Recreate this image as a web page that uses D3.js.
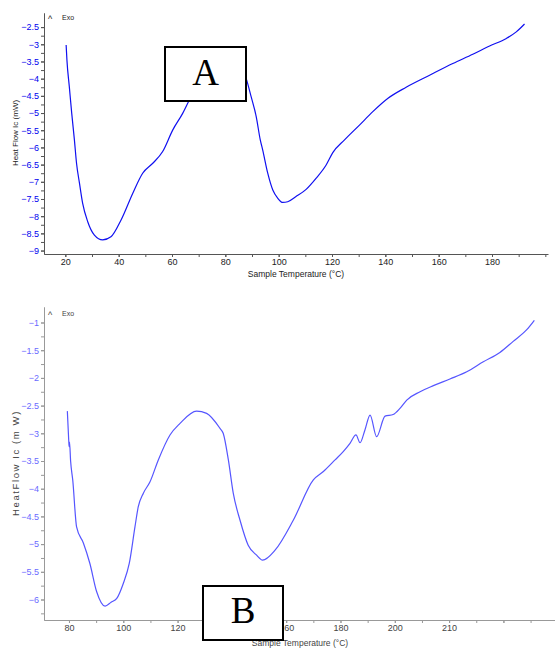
<!DOCTYPE html>
<html>
<head>
<meta charset="utf-8">
<script src="https://cdn.jsdelivr.net/npm/d3@7"></script>
<style>
  body { margin: 0; background: #fff; }
  svg { display: block; font-family: "Liberation Sans", Arial, sans-serif; }
</style>
</head>
<body>
<svg id="chart" width="555" height="648"></svg>
<script>
// panel A data (temperature in C, heat flow in mW)
const tempA = [20.3, 20.6, 21.5, 22.4, 23.4, 24.2, 25.3, 26.5, 28.4, 30.9, 34.0, 37.1, 40.9, 45.3, 49.0, 52.8, 56.5, 60.3, 64.0, 66.5,
  70, 75, 80, 84, 87.8, 89.7, 91.6, 93.1, 94.0, 95.9, 97.8, 99.7, 101.5, 103.4, 106.5, 110.3, 114.0, 117.8, 120.3, 124.7,
  130.3, 135.3, 141.0, 147.8, 156.6, 165.3, 172.8, 179.1, 185.4, 189.1, 192.2];
const heatA = [-3.02, -3.46, -4.24, -5.01, -5.78, -6.46, -7.04, -7.63, -8.16, -8.55, -8.69, -8.60, -8.11, -7.33, -6.75, -6.46, -6.12, -5.49, -5.01, -4.62,
  -4.1, -3.6, -3.35, -3.5, -3.99, -4.53, -5.11, -5.78, -6.07, -6.75, -7.24, -7.48, -7.60, -7.58, -7.43, -7.22, -6.90, -6.51, -6.15, -5.78,
  -5.35, -4.96, -4.57, -4.25, -3.90, -3.56, -3.29, -3.05, -2.83, -2.64, -2.41];

// panel B data
const tempB = [79.4, 79.9, 80.05, 80.2, 80.6, 81.4, 82.8, 85.3, 87.7, 90.2, 93.3, 95.5, 97.6, 100.0, 102.2, 104.3, 105.5, 107.4, 109.8, 112.9,
  117.2, 120.9, 127.0, 130.7, 135.6, 136.8, 138.7, 140.5, 143.0, 146.0, 149.1, 151.3, 155.9, 162.6, 170.0, 173.7, 178.0, 181.0, 183.5, 185.7,
  187.2, 189.0, 190.9, 193.3, 196.4, 199.4, 201.9, 204.4, 209.3, 214.2, 220.3, 226.5, 232.6, 238.7, 243.6, 248.6, 251.4];
const heatB = [-2.6, -3.12, -3.24, -3.16, -3.5, -3.85, -4.69, -4.98, -5.35, -5.86, -6.12, -6.05, -5.98, -5.71, -5.35, -4.69, -4.33, -4.08, -3.88, -3.48,
  -3.03, -2.82, -2.60, -2.64, -2.91, -3.0, -3.48, -4.08, -4.57, -5.02, -5.2, -5.29, -5.11, -4.57, -3.84, -3.69, -3.48, -3.33, -3.18, -3.03,
  -3.17, -2.94, -2.67, -3.06, -2.69, -2.66, -2.55, -2.40, -2.25, -2.14, -2.02, -1.89, -1.71, -1.54, -1.34, -1.13, -0.96];

// ticks
const xTicksA = [20, 40, 60, 80, 100, 120, 140, 160, 180];
const xMinorA = [20, 30, 40, 50, 60, 70, 80, 90, 100, 110, 120, 130, 140, 150, 160, 170, 180, 190, 200];
const yTicksA = [-2.5, -3, -3.5, -4, -4.5, -5, -5.5, -6, -6.5, -7, -7.5, -8, -8.5, -9];
const xTicksB = [80, 100, 120, 160, 180, 200, 220, 240];
const xLabelsB = ["80", "100", "120", "160", "180", "200", "210", ""];
const xMinorB = [80, 90, 100, 110, 120, 130, 140, 150, 160, 170, 180, 190, 200, 210, 220, 230, 240, 250];
const yTicksB = [-1, -1.5, -2, -2.5, -3, -3.5, -4, -4.5, -5, -5.5, -6];

const svg = d3.select("#chart");

function quarterTicks(vals) {
  let out = [];
  vals.forEach(v => { out.push(v); out.push(v - 0.25); });
  return out;
}

function drawPanel(o) {
  let g = svg.append("g");

  // minor y ticks
  g.append("g")
    .attr("transform", `translate(${o.x0},0)`)
    .call(d3.axisLeft(o.y).tickValues(quarterTicks(o.yTicks).filter(v => v >= o.y.domain()[0])).tickSize(3).tickFormat("").tickSizeOuter(0))
    .call(s => s.selectAll("line, path").attr("stroke", o.axisColor));

  // y axis with labels
  g.append("g")
    .attr("transform", `translate(${o.x0},0)`)
    .call(d3.axisLeft(o.y).tickValues(o.yTicks).tickSize(3).tickPadding(2).tickSizeOuter(0).tickFormat(d3.format("")))
    .call(s => s.selectAll("line, path").attr("stroke", o.axisColor))
    .call(s => s.selectAll("text").attr("fill", o.labelColor).style("font-size", "9px"));

  // x axis ticks
  g.append("g")
    .attr("transform", `translate(0,${o.y0})`)
    .call(d3.axisBottom(o.x).tickValues(o.xMinor).tickSize(3).tickFormat("").tickSizeOuter(0))
    .call(s => s.selectAll("line, path").attr("stroke", o.axisColor));

  g.append("g")
    .attr("transform", `translate(0,${o.y0})`)
    .call(d3.axisBottom(o.x).tickValues(o.xTicks).tickSize(3).tickPadding(2).tickSizeOuter(0)
      .tickFormat((d, i) => o.xLabels[i]))
    .call(s => s.select("path").remove())
    .call(s => s.selectAll("line").attr("stroke", o.axisColor))
    .call(s => s.selectAll("text").attr("fill", o.textColor).style("font-size", "9px"));

  // curve
  let line = d3.line()
    .x(d => o.x(d[0]))
    .y(d => o.y(d[1]))
    .curve(d3.curveMonotoneX);
  g.append("path")
    .datum(o.temps.map((t, i) => [t, o.heat[i]]))
    .attr("d", line)
    .attr("fill", "none")
    .attr("stroke", o.lineColor)
    .attr("stroke-width", 1.2);

  // exo marker
  g.append("text").attr("x", o.x0 + 4).attr("y", o.exoY + 5)
    .style("font-size", "9px").attr("fill", o.textColor).text("^");
  g.append("text").attr("x", o.x0 + 18).attr("y", o.exoY + 3)
    .style("font-size", "7px").attr("fill", o.textColor).text("Exo");

  // axis titles
  g.append("text")
    .attr("transform", `translate(${o.yTitleX},${o.yTitleY}) rotate(-90)`)
    .attr("text-anchor", "middle")
    .style("font-size", o.yTitleSize)
    .style("letter-spacing", o.yTitleSpacing)
    .attr("fill", o.textColor)
    .text(o.yTitle);
  g.append("text")
    .attr("x", o.xTitleX).attr("y", o.xTitleY)
    .attr("text-anchor", "middle")
    .style("font-size", "8.5px")
    .attr("fill", o.textColor)
    .text("Sample Temperature (\u00B0C)");

  // label box
  g.append("rect")
    .attr("x", o.box[0]).attr("y", o.box[1])
    .attr("width", o.box[2]).attr("height", o.box[3])
    .attr("fill", "#fff").attr("stroke", "#000").attr("stroke-width", 2);
  g.append("text")
    .attr("x", o.box[0] + o.box[2] / 2).attr("y", o.letterY)
    .attr("text-anchor", "middle")
    .style("font-family", "'Liberation Serif', 'Times New Roman', serif")
    .style("font-size", "37px")
    .attr("fill", "#000")
    .text(o.letter);
}

drawPanel({
  x: d3.scaleLinear().domain([12, 201]).range([44, 548]),
  y: d3.scaleLinear().domain([-9.1, -2.09]).range([254, 13]),
  x0: 44, y0: 254,
  xTicks: xTicksA, xLabels: xTicksA.map(String), xMinor: xMinorA, yTicks: yTicksA,
  temps: tempA, heat: heatA,
  axisColor: "#555", labelColor: "#0000ee", textColor: "#222", lineColor: "#1010f0",
  exoY: 17,
  yTitle: "Heat Flow  Ic (mW)", yTitleX: 18, yTitleY: 133, yTitleSize: "8px", yTitleSpacing: "0px",
  xTitleX: 296, xTitleY: 277,
  box: [165, 47, 81, 54], letter: "A", letterY: 85
});

drawPanel({
  x: d3.scaleLinear().domain([70.8, 259]).range([44, 555]),
  y: d3.scaleLinear().domain([-6.37, -0.72]).range([620, 307]),
  x0: 44, y0: 620,
  xTicks: xTicksB, xLabels: xLabelsB, xMinor: xMinorB, yTicks: yTicksB,
  temps: tempB, heat: heatB,
  axisColor: "#999", labelColor: "#6a6aff", textColor: "#444", lineColor: "#5555ff",
  exoY: 313,
  yTitle: "HeatFlow  Ic  (m W)", yTitleX: 19, yTitleY: 463, yTitleSize: "9.5px", yTitleSpacing: "1.6px",
  xTitleX: 300, xTitleY: 646,
  box: [203, 586, 80, 54], letter: "B", letterY: 623
});
</script>
</body>
</html>
